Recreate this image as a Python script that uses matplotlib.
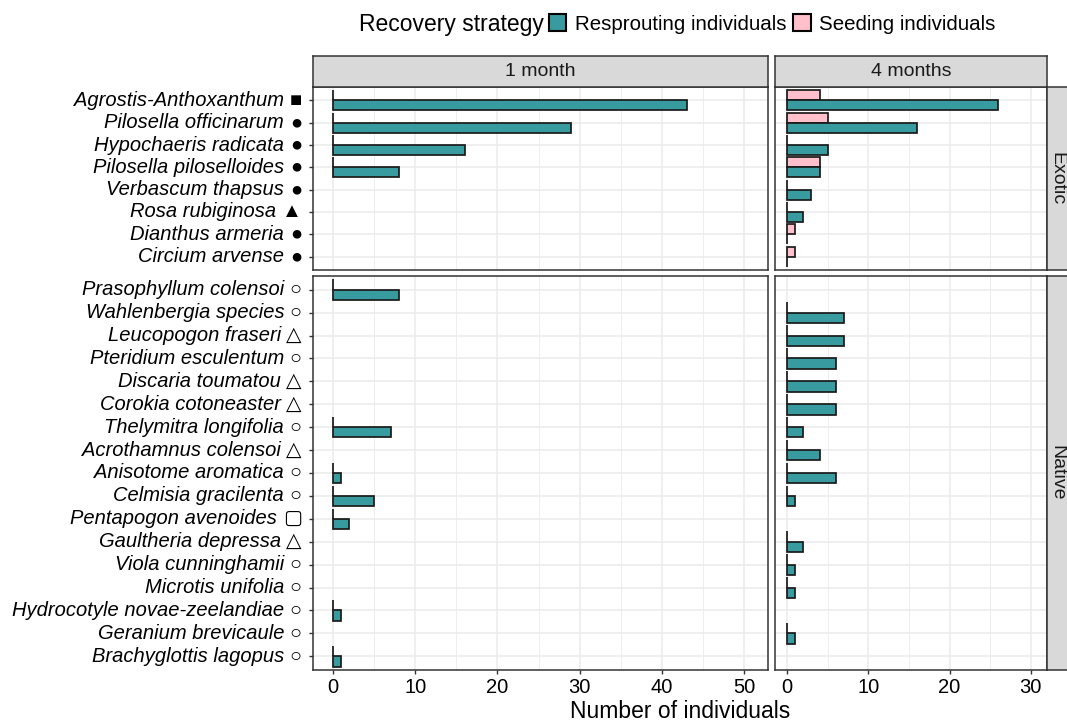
import numpy as np
import matplotlib
matplotlib.use("Agg")
import matplotlib.pyplot as plt
from matplotlib.patches import Patch
from matplotlib.offsetbox import TextArea, HPacker, AnnotationBbox

nan = np.nan

# ---------------- data ----------------
exotic_species = ["Agrostis-Anthoxanthum", "Pilosella officinarum", "Hypochaeris radicata",
                  "Pilosella piloselloides", "Verbascum thapsus", "Rosa rubiginosa",
                  "Dianthus armeria", "Circium arvense"]
exotic_symbols = ["■", "●", "●", "●", "●", "▲", "●", "●"]

native_species = ["Prasophyllum colensoi", "Wahlenbergia species", "Leucopogon fraseri",
                  "Pteridium esculentum", "Discaria toumatou", "Corokia cotoneaster",
                  "Thelymitra longifolia", "Acrothamnus colensoi", "Anisotome aromatica",
                  "Celmisia gracilenta", "Pentapogon avenoides", "Gaultheria depressa",
                  "Viola cunninghamii", "Microtis unifolia", "Hydrocotyle novae-zeelandiae",
                  "Geranium brevicaule", "Brachyglottis lagopus"]
native_symbols = ["○", "○", "△", "○", "△", "△", "○", "△", "○", "○", "▢", "△",
                  "○", "○", "○", "○", "○"]

# 1 month
resprout_1m_exotic = [43, 29, 16, 8, nan, nan, nan, nan]
seeding_1m_exotic = [0, 0, 0, 0, nan, nan, nan, nan]
resprout_1m_native = [8, nan, nan, nan, nan, nan, 7, nan, 1, 5, 2, nan, nan, nan, 1, nan, 1]
seeding_1m_native = [0, nan, nan, nan, nan, nan, 0, nan, 0, 0, 0, nan, nan, nan, 0, nan, 0]

# 4 months
resprout_4m_exotic = [26, 16, 5, 4, 3, 2, 0, 0]
seeding_4m_exotic = [4, 5, 0, 4, 0, 0, 1, 1]
resprout_4m_native = [nan, 7, 7, 6, 6, 6, 2, 4, 6, 1, nan, 2, 1, 1, nan, 1, nan]
seeding_4m_native = [nan, 0, 0, 0, 0, 0, 0, 0, 0, 0, nan, 0, 0, 0, nan, 0, nan]

time_labels = ["1 month", "4 months"]
origin_labels = ["Exotic", "Native"]
x_ticks_1m = [0, 10, 20, 30, 40, 50]
x_ticks_4m = [0, 10, 20, 30]
legend_title = "Recovery strategy"
legend_labels = ["Resprouting individuals", "Seeding individuals"]
x_title = "Number of individuals"

# ---------------- style ----------------
TEAL = "#379b9f"
PINK = "#ffc0cb"
EDGE = "#1a1a1a"
GRID = "#ebebeb"
BORDER = "#333333"
STRIP = "#d9d9d9"
FONT = "Liberation Sans"
plt.rcParams["font.family"] = [FONT, "DejaVu Sans"]

W, H = 1067, 725
fig = plt.figure(figsize=(W / 100, H / 100), dpi=100)


def rect(l, r, t, b):
    return [l / W, 1 - b / H, (r - l) / W, (b - t) / H]


cols = {"1m": (313, 768), "4m": (775, 1047)}
rows = {"exotic": (87, 270), "native": (276, 670)}
xlims = {"1m": (-2.43, 52.9), "4m": (-1.48, 32.0)}
xticks = {"1m": x_ticks_1m, "4m": x_ticks_4m}

data = {
    ("1m", "exotic"): (resprout_1m_exotic, seeding_1m_exotic),
    ("4m", "exotic"): (resprout_4m_exotic, seeding_4m_exotic),
    ("1m", "native"): (resprout_1m_native, seeding_1m_native),
    ("4m", "native"): (resprout_4m_native, seeding_4m_native),
}
species = {"exotic": (exotic_species, exotic_symbols), "native": (native_species, native_symbols)}

LABEL_FS = 14.5

for (c, r), (resp, seed) in data.items():
    l, rr = cols[c]
    t, b = rows[r]
    ax = fig.add_axes(rect(l, rr, t, b))
    names, syms = species[r]
    n = len(names)
    y = np.arange(n)
    ax.set_ylim(n - 1 + 0.6, -0.6)
    ax.set_xlim(*xlims[c])
    ax.set_axisbelow(True)
    ax.set_yticks(y)
    ax.set_xticks(xticks[c])
    ax.set_xticks([v + 5 for v in xticks[c] if v + 5 < xlims[c][1]], minor=True)
    ax.grid(axis="y", which="major", color=GRID, lw=1.1)
    ax.grid(axis="x", which="major", color=GRID, lw=1.1)
    ax.grid(axis="x", which="minor", color=GRID, lw=0.6)
    ax.tick_params(which="minor", length=0)
    for s in ax.spines.values():
        s.set_color(BORDER)
        s.set_linewidth(1.1)

    for arr, off, col in [(seed, -0.225, PINK), (resp, 0.225, TEAL)]:
        a = np.asarray(arr, dtype=float)
        m = ~np.isnan(a)
        ax.barh(y[m] + off, a[m], height=0.45, color=col, edgecolor=EDGE, linewidth=1.25)

    # x axis
    if r == "native":
        ax.tick_params(axis="x", which="major", length=3, width=1, color=BORDER,
                       labelsize=LABEL_FS, labelcolor="black", pad=3)
        for lab in ax.get_xticklabels():
            lab.set_family(FONT)
    else:
        ax.tick_params(axis="x", which="major", length=0, labelbottom=False)

    # y axis
    if c == "1m":
        ax.tick_params(axis="y", which="major", length=3, width=1, color=BORDER,
                       labelleft=False)
        for yi, nm, sy in zip(y, names, syms):
            ta = TextArea(nm, textprops=dict(fontstyle="italic", fontsize=LABEL_FS,
                                             family=FONT, color="black"))
            tb = TextArea(sy, textprops=dict(fontsize=LABEL_FS, family=[FONT, "DejaVu Sans"],
                                             color="black"))
            box = HPacker(children=[ta, tb], align="baseline", pad=0, sep=4)
            ab = AnnotationBbox(box, (0, yi), xycoords=ax.get_yaxis_transform(),
                                xybox=(-8.0, 0), boxcoords="offset points",
                                box_alignment=(1, 0.5), frameon=False, pad=0,
                                annotation_clip=False)
            ax.add_artist(ab)
    else:
        ax.tick_params(axis="y", which="major", length=0, labelleft=False)

# strips (top)
for c, lab in zip(["1m", "4m"], time_labels):
    l, rr = cols[c]
    sax = fig.add_axes(rect(l, rr, 56, 87))
    sax.set_facecolor(STRIP)
    sax.set_xticks([]); sax.set_yticks([])
    for s in sax.spines.values():
        s.set_color(BORDER); s.set_linewidth(1.1)
    sax.text(0.5, 0.5, lab, ha="center", va="center", fontsize=14, color="#1a1a1a",
             family=FONT, transform=sax.transAxes)

# strips (right)
for r, lab in zip(["exotic", "native"], origin_labels):
    t, b = rows[r]
    sax = fig.add_axes(rect(1047, 1080, t, b))
    sax.set_facecolor(STRIP)
    sax.set_xticks([]); sax.set_yticks([])
    for s in sax.spines.values():
        s.set_color(BORDER); s.set_linewidth(1.1)
    fig.text(1057 / W, 1 - (t + b) / 2 / H, lab, rotation=-90, ha="center", va="center",
             fontsize=14, color="#1a1a1a", family=FONT)

# axis title
fig.text(680 / W, 1 - 712 / H, x_title, ha="center", va="center", fontsize=16.5,
         color="black", family=FONT)

# legend
fig.text(544 / W, 1 - 24 / H, legend_title, ha="right", va="center", fontsize=16.5,
         color="black", family=FONT)
handles = [Patch(facecolor=TEAL, edgecolor="black", linewidth=1.5),
           Patch(facecolor=PINK, edgecolor="black", linewidth=1.5)]
fig.legend(handles, legend_labels, loc="center left", bbox_to_anchor=(549 / W, 1 - 24 / H),
           ncol=2, frameon=False, prop=dict(family=FONT, size=14.8),
           handlelength=0.85, handleheight=0.85, handletextpad=0.4, columnspacing=0.35,
           borderpad=0, borderaxespad=0)

fig.savefig("out.png", dpi=100)
